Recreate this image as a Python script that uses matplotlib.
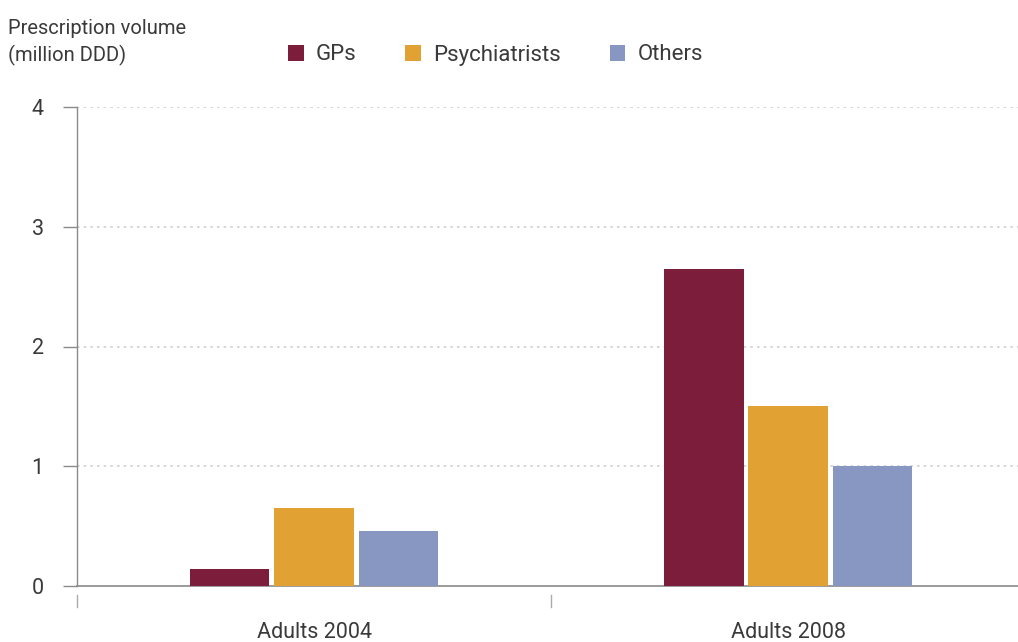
import matplotlib
matplotlib.use("Agg")
import matplotlib.pyplot as plt
from matplotlib.patches import Patch
import matplotlib.transforms as mtransforms
import numpy as np

categories = ["Adults 2004", "Adults 2008"]
series_names = ["GPs", "Psychiatrists", "Others"]
gps = [0.14, 2.65]
psychiatrists = [0.65, 1.50]
others = [0.46, 1.00]
yticks = [0, 1, 2, 3, 4]

colors = ["#7B1D3B", "#E1A233", "#8797C1"]
text_color = "#3a3a3a"
axis_color = "#8a8a8a"

plt.rcParams['font.family'] = ['Roboto', 'DejaVu Sans']

fig = plt.figure(figsize=(10.18, 6.42), dpi=100)
left = 77 / 1018
bottom = (642 - 586) / 642
top = (642 - 107) / 642
ax = fig.add_axes([left, bottom, 1 - left, top - bottom])

x = np.arange(len(categories))
bw = 0.168
step = 0.178
for i, (vals, c, name) in enumerate(zip([gps, psychiatrists, others], colors, series_names)):
    ax.bar(x + (i - 1) * step, vals, width=bw, color=c, label=name, zorder=3)

ax.set_xlim(-0.5, 1.485)
ax.set_ylim(0, 4)
ax.set_yticks(yticks)
ax.set_yticklabels([str(t) for t in yticks], fontsize=15.5, color=text_color)
ax.set_xticks(x)
ax.set_xticklabels(categories, fontsize=15.5, color=text_color)
ax.tick_params(axis='x', length=0, pad=26)
ax.tick_params(axis='y', length=10, width=1, color=axis_color, pad=14)

for yv in yticks[1:]:
    ax.axhline(yv, color="#cfcfcf", linestyle=(0, (1.5, 2.5)), linewidth=1.2, zorder=1)

for s in ["top", "right"]:
    ax.spines[s].set_visible(False)
ax.spines["left"].set_color(axis_color)
ax.spines["bottom"].set_color(axis_color)
ax.spines["left"].set_linewidth(1)
ax.spines["bottom"].set_linewidth(1.2)

# boundary tick marks below the axis
trans = mtransforms.blended_transform_factory(ax.transData, ax.transAxes)
for b in [-0.5, 0.5]:
    ax.plot([b, b], [-0.019, -0.044], color="#aaaaaa", lw=1, transform=trans, clip_on=False)

fig.text(8 / 1018, 1 - 19 / 642, "Prescription volume\n(million DDD)", fontsize=14.5,
         color=text_color, va="top", ha="left", linespacing=1.4)

handles = [Patch(facecolor=c, label=n) for c, n in zip(colors, series_names)]
fig.legend(handles=handles, loc="center left", bbox_to_anchor=(268 / 1018, 1 - 55 / 642),
           ncol=3, frameon=False, fontsize=16, handlelength=0.7, handleheight=0.7,
           handletextpad=0.55, columnspacing=2.2, labelcolor=text_color)

fig.savefig("out.png", dpi=100)
